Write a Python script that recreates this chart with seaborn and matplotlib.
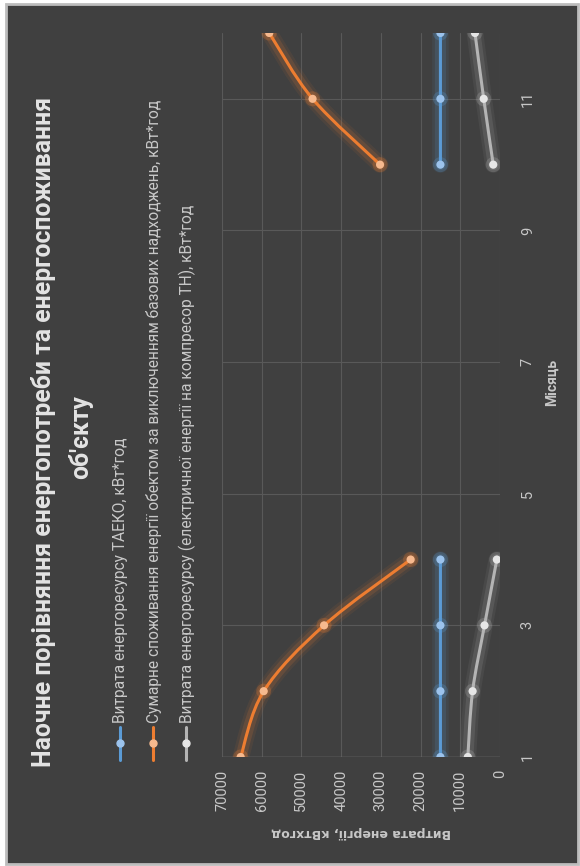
import matplotlib
matplotlib.use("Agg")
import matplotlib.pyplot as plt
import matplotlib.patheffects as pe
from matplotlib.path import Path
from matplotlib.patches import PathPatch, Rectangle
from matplotlib.lines import Line2D
import seaborn as sns

months = [1, 2, 3, 4, 10, 11, 12]
taeko = [15000, 15000, 15000, 15000, 15000, 15000, 15000]
total = [65300, 59500, 44300, 22500, 30200, 47200, 58100]
electric = [8100, 6900, 3900, 800, 1700, 4100, 6300]

series_names = [
    "Витрата енергоресурсу ТАЕКО, кВт*год",
    "Сумарне споживання енергії обектом за виключенням базових надходжень, кВт*год",
    "Витрата енергоресурсу (електричної енергії на компресор ТН), кВт*год",
]
value_ticks = [0, 10000, 20000, 30000, 40000, 50000, 60000, 70000]
month_ticks = [1, 3, 5, 7, 9, 11]
title_1 = "Наочне порівняння енергопотреби та енергоспоживання"
title_2 = "об'єкту"
value_label = "Витрата енергії, кВтхгод"
month_label = "Місяць"

line_colors = ["#5b9bd5", "#ed7d31", "#b4b4b4"]
dot_colors = ["#9cc3ec", "#f6b98e", "#e6e6e6"]
bg = "#404040"
txt = "#c8c8c8"

sns.set_style("dark")
plt.rcParams["font.family"] = ["Roboto", "DejaVu Sans"]

W, H = 580, 866
fig = plt.figure(figsize=(W / 100, H / 100), dpi=100, facecolor="white")


def fx(px):
    return px / W


def fy(py):
    return 1 - py / H


fig.add_artist(Rectangle((fx(6), fy(864)), fx(572), 860 / H, transform=fig.transFigure,
                         facecolor=bg, edgecolor="#bdbdbd", linewidth=2, zorder=-5))

ax = fig.add_axes([fx(222), fy(757), fx(500) - fx(222), (757 - 33) / H])
ax.patch.set_alpha(0)
ax.set_xlim(70000, 0)
ax.set_ylim(1, 12)
ax.set_xticks(value_ticks)
ax.set_yticks(month_ticks)
ax.grid(True, color="#595959", linewidth=0.8)
for s in ax.spines.values():
    s.set_visible(False)
ax.axhline(1, color="#7a7a7a", linewidth=1.0, zorder=1)
ax.tick_params(length=0)
ax.set_xticklabels([str(v) for v in value_ticks], rotation=90, color=txt, fontsize=10.5, va="top")
ax.yaxis.tick_right()
ax.set_yticklabels([str(m) for m in month_ticks], rotation=90, color=txt, fontsize=10.5, va="center")
ax.tick_params(axis="x", pad=9)
ax.tick_params(axis="y", pad=15)


def smooth_path(xs, ys):
    # Excel-style smoothed line: Catmull-Rom segments as cubic Beziers
    pts = list(zip(xs, ys))
    verts = [pts[0]]
    codes = [Path.MOVETO]
    n = len(pts)
    for i in range(n - 1):
        p0 = pts[max(i - 1, 0)]
        p1 = pts[i]
        p2 = pts[i + 1]
        p3 = pts[min(i + 2, n - 1)]
        c1 = (p1[0] + (p2[0] - p0[0]) / 6, p1[1] + (p2[1] - p0[1]) / 6)
        c2 = (p2[0] - (p3[0] - p1[0]) / 6, p2[1] - (p3[1] - p1[1]) / 6)
        verts += [c1, c2, p2]
        codes += [Path.CURVE4] * 3
    return Path(verts, codes)


all_series = [taeko, total, electric]
for vals, lc, dc in zip(all_series, line_colors, dot_colors):
    glow = [pe.Stroke(linewidth=12, foreground=lc, alpha=0.08),
            pe.Stroke(linewidth=8, foreground=lc, alpha=0.15),
            pe.Normal()]
    for seg in [(0, 4), (4, 7)]:
        xs = vals[seg[0]:seg[1]]
        ys = months[seg[0]:seg[1]]
        patch = PathPatch(smooth_path(xs, ys), facecolor="none", edgecolor=lc,
                          linewidth=2.2, capstyle="round", zorder=3)
        patch.set_path_effects(glow)
        ax.add_patch(patch)
    sns.scatterplot(x=vals, y=months, ax=ax, color=dc, s=34, linewidth=0, zorder=4,
                    path_effects=[pe.Stroke(linewidth=5, foreground=lc, alpha=0.25), pe.Normal()])

# axis titles
fig.text(fx(361), fy(832), value_label, rotation=180, ha="center", va="center",
         color=txt, fontsize=9, fontweight="bold", family=["DejaVu Sans"])
fig.text(fx(552), fy(382), month_label, rotation=90, ha="center", va="center",
         color=txt, fontsize=10, fontweight="bold")

# title
fig.text(fx(44), fy(432), title_1, rotation=90, ha="center", va="center",
         color="#e3e3e3", fontsize=17.8, fontweight="bold")
fig.text(fx(81), fy(437), title_2, rotation=90, ha="center", va="center",
         color="#e3e3e3", fontsize=17.8, fontweight="bold")

# legend, drawn by hand because the whole chart is turned
for i, (name, lc, dc) in enumerate(zip(series_names, line_colors, dot_colors)):
    x = 120 + i * 33
    fig.add_artist(Line2D([fx(x), fx(x)], [fy(760), fy(727)], transform=fig.transFigure,
                          color=lc, linewidth=2.2))
    fig.add_artist(Line2D([fx(x)], [fy(743)], transform=fig.transFigure, marker="o",
                          markersize=5, color=dc, linewidth=0))
    fig.text(fx(x + 1), fy(723), name, rotation=90, ha="center", va="bottom",
             color=txt, fontsize=11.2)

fig.savefig("out.png", dpi=100, facecolor="white")
